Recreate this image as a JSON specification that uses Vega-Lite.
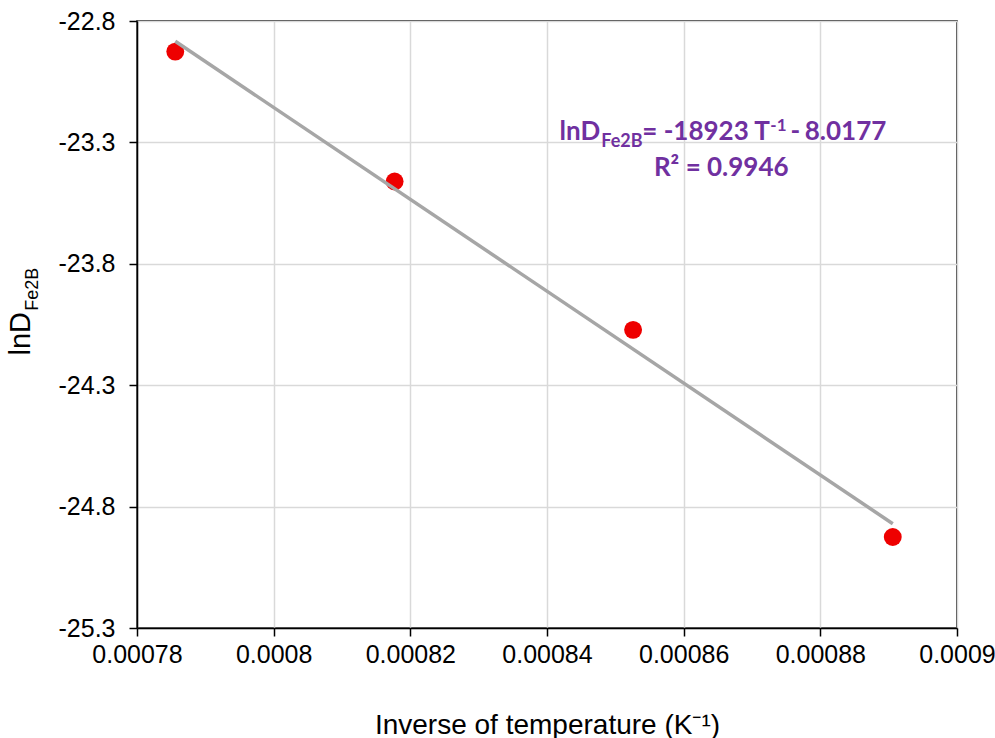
{
  "$schema": "https://vega.github.io/schema/vega-lite/v6.json",
  "autosize": "none",
  "width": 820,
  "height": 607,
  "padding": {"left": 137, "top": 21, "right": 38, "bottom": 110},
  "background": "white",
  "config": {
    "view": {"stroke": "black", "strokeWidth": 1.5},
    "font": "Liberation Sans"
  },
  "datasets": {
    "points": [
      {"invT": 0.0007856, "lnD": -22.926},
      {"invT": 0.0008177, "lnD": -23.461},
      {"invT": 0.0008526, "lnD": -24.072},
      {"invT": 0.0008906, "lnD": -24.925}
    ],
    "fit": [
      {"invT": 0.0007856, "lnD": -22.8836},
      {"invT": 0.0008906, "lnD": -24.8705}
    ],
    "annRight": [
      {"invT": 0.00084779, "lnD": -23.2897, "label": "lnD"},
      {"invT": 0.00088966, "lnD": -23.2897, "label": "8.0177"}
    ],
    "annLeft": [
      {"invT": 0.00085394, "lnD": -23.2897, "label": "= -18923 T"}
    ],
    "annCenter": [
      {"invT": 0.00087634, "lnD": -23.2897, "label": "-"},
      {"invT": 0.0008655, "lnD": -23.4378, "label": "R² = 0.9946"}
    ],
    "annSub": [
      {"invT": 0.00084794, "lnD": -23.3185, "label": "Fe2B"}
    ],
    "annSup": [
      {"invT": 0.00087268, "lnD": -23.2527, "label": "-1"}
    ],
    "yTitle": [
      {"invT": 0.000764334, "lnD": -24.088, "label": "lnD"}
    ],
    "yTitleSub": [
      {"invT": 0.000765505, "lnD": -23.9049, "label": "Fe2B"}
    ]
  },
  "layer": [
    {
      "data": {"name": "points"},
      "mark": {"type": "point", "filled": true, "color": "#EE0000", "size": 320, "opacity": 1},
      "encoding": {
        "x": {
          "field": "invT", "type": "quantitative",
          "scale": {"domain": [0.00078, 0.0009], "nice": false, "zero": false},
          "axis": {
            "values": [0.00078, 0.0008, 0.00082, 0.00084, 0.00086, 0.00088, 0.0009],
            "format": "~g",
            "labelFlush": false,
            "title": "Inverse of temperature (K⁻¹)",
            "titleFont": "Liberation Sans", "titleFontSize": 28, "titleFontWeight": "normal", "titleColor": "black",
            "titlePadding": 44,
            "labelFont": "Liberation Sans", "labelFontSize": 25, "labelColor": "black", "labelPadding": 6,
            "domainColor": "black", "domainWidth": 1.5,
            "tickColor": "black", "tickWidth": 1.5, "tickSize": 8,
            "gridColor": "#D9D9D9", "gridWidth": 1.5
          }
        },
        "y": {
          "field": "lnD", "type": "quantitative",
          "scale": {"domain": [-25.3, -22.8], "nice": false, "zero": false},
          "axis": {
            "values": [-22.8, -23.3, -23.8, -24.3, -24.8, -25.3],
            "labelExpr": "replace(format(datum.value, '.1f'), '\u2212', '-')",
            "labelFlush": false,
            "title": null,
            "labelFont": "Liberation Sans", "labelFontSize": 25, "labelColor": "black", "labelPadding": 14,
            "domainColor": "black", "domainWidth": 1.5,
            "tickColor": "black", "tickWidth": 1.5, "tickSize": 8,
            "gridColor": "#D9D9D9", "gridWidth": 1.5
          }
        }
      }
    },
    {
      "data": {"name": "fit"},
      "mark": {"type": "line", "color": "#A6A6A6", "strokeWidth": 3.5},
      "encoding": {
        "x": {"field": "invT", "type": "quantitative"},
        "y": {"field": "lnD", "type": "quantitative"}
      }
    },
    {
      "data": {"name": "annRight"},
      "mark": {"type": "text", "font": "Lato", "fontWeight": "bold", "fontSize": 26, "color": "#7030A0", "align": "right", "baseline": "alphabetic"},
      "encoding": {
        "x": {"field": "invT", "type": "quantitative"},
        "y": {"field": "lnD", "type": "quantitative"},
        "text": {"field": "label"}
      }
    },
    {
      "data": {"name": "annLeft"},
      "mark": {"type": "text", "font": "Lato", "fontWeight": "bold", "fontSize": 26, "color": "#7030A0", "align": "left", "baseline": "alphabetic"},
      "encoding": {
        "x": {"field": "invT", "type": "quantitative"},
        "y": {"field": "lnD", "type": "quantitative"},
        "text": {"field": "label"}
      }
    },
    {
      "data": {"name": "annCenter"},
      "mark": {"type": "text", "font": "Lato", "fontWeight": "bold", "fontSize": 26, "color": "#7030A0", "align": "center", "baseline": "alphabetic"},
      "encoding": {
        "x": {"field": "invT", "type": "quantitative"},
        "y": {"field": "lnD", "type": "quantitative"},
        "text": {"field": "label"}
      }
    },
    {
      "data": {"name": "annSub"},
      "mark": {"type": "text", "font": "Lato", "fontWeight": "bold", "fontSize": 18, "color": "#7030A0", "align": "left", "baseline": "alphabetic"},
      "encoding": {
        "x": {"field": "invT", "type": "quantitative"},
        "y": {"field": "lnD", "type": "quantitative"},
        "text": {"field": "label"}
      }
    },
    {
      "data": {"name": "annSup"},
      "mark": {"type": "text", "font": "Lato", "fontWeight": "bold", "fontSize": 17, "color": "#7030A0", "align": "left", "baseline": "alphabetic"},
      "encoding": {
        "x": {"field": "invT", "type": "quantitative"},
        "y": {"field": "lnD", "type": "quantitative"},
        "text": {"field": "label"}
      }
    },
    {
      "data": {"name": "yTitle"},
      "mark": {"type": "text", "font": "Liberation Sans", "fontSize": 29, "color": "black", "align": "center", "baseline": "alphabetic", "angle": 270},
      "encoding": {
        "x": {"field": "invT", "type": "quantitative"},
        "y": {"field": "lnD", "type": "quantitative"},
        "text": {"field": "label"}
      }
    },
    {
      "data": {"name": "yTitleSub"},
      "mark": {"type": "text", "font": "Liberation Sans", "fontSize": 18, "color": "black", "align": "center", "baseline": "alphabetic", "angle": 270},
      "encoding": {
        "x": {"field": "invT", "type": "quantitative"},
        "y": {"field": "lnD", "type": "quantitative"},
        "text": {"field": "label"}
      }
    }
  ]
}
